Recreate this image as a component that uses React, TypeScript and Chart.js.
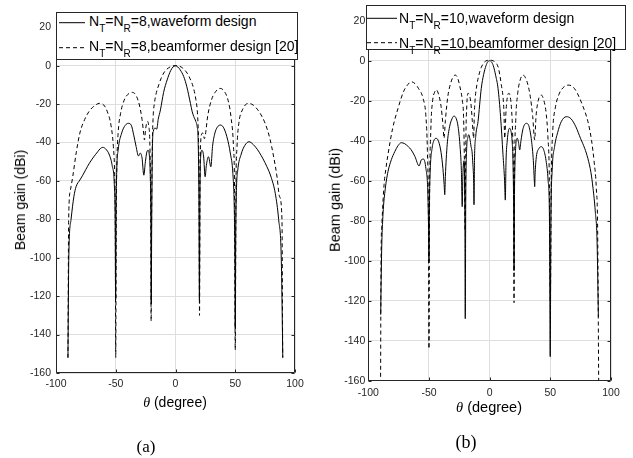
import React, { useEffect, useRef } from "react";
import { Chart, registerables } from "chart.js";

Chart.register(...registerables);

// ---------- data: [theta (degree), beam gain (dBi)] ----------
const waveformA: [number, number][] = [
  [-90, -152], [-89.3, -100], [-87.4, -80], [-85, -68], [-83.2, -63], [-80, -59.5], [-77.6, -57], [-75, -54],
  [-72.1, -50.8], [-68.5, -47.5], [-65.1, -44.8], [-63, -43.2], [-60.9, -42.5], [-58.5, -43.3], [-55.3, -46.5],
  [-53, -52], [-51.2, -62], [-50.5, -80], [-50.1, -122], [-49.7, -75], [-49.2, -55], [-48, -44], [-45, -35],
  [-42, -31], [-39.5, -30], [-37, -31], [-35, -36], [-33, -42], [-31, -47], [-29.5, -45.5], [-28, -48],
  [-26.5, -57], [-25.2, -50], [-24, -45], [-23, -44], [-22, -46], [-21.2, -55], [-20.6, -80], [-20.3, -124],
  [-19.9, -80], [-19.3, -42], [-18.5, -34], [-17, -32.5], [-15.7, -33], [-14.5, -28], [-12.6, -23], [-10, -14],
  [-7, -7.4], [-4, -2.5], [-2, -0.6], [0, 0], [2, -0.7], [4, -2.2], [6.9, -5.7], [9.5, -11], [12.5, -19.6],
  [14, -24], [15.3, -26.5], [17, -29], [18.1, -31.7], [19, -40], [19.6, -70], [20, -122], [20.4, -70], [21, -48],
  [22.1, -44], [23.5, -47], [24.8, -57.8], [25.8, -52], [27.6, -47.4], [29.6, -52.6], [31, -42], [33, -35],
  [35, -32], [37.4, -30.9], [40, -32], [43, -37], [46, -46], [48, -56], [49.2, -75], [49.7, -100], [50, -137],
  [50.4, -90], [51, -65], [52, -55], [55, -46], [58, -41.5], [61.5, -39.6], [65, -41], [70, -45], [76.5, -52.6],
  [80, -58], [83.5, -66.5], [86.3, -80], [88.5, -100], [89.8, -152],
];

const beamformerA: [number, number][] = [
  [-90, -152], [-89.4, -80], [-88, -65], [-86, -57.8], [-83, -45], [-80, -35], [-76, -28], [-72, -23.5],
  [-68, -21], [-63.7, -19.6], [-60, -20.5], [-57, -24], [-54, -31], [-52, -42], [-51, -55], [-50.4, -80],
  [-50, -152], [-49.6, -80], [-49, -50], [-48, -35], [-46, -25], [-43, -18], [-40, -15], [-36, -13.9],
  [-33, -15.5], [-30, -21], [-28, -28], [-26.5, -36], [-26, -38.7], [-25, -33], [-23.5, -29], [-22.5, -31],
  [-21.3, -45], [-20.7, -80], [-20.4, -133], [-20, -80], [-19.5, -45], [-18.8, -28], [-17.5, -19], [-16, -14],
  [-14, -10], [-12, -6.5], [-9, -3], [-6, -1.2], [-3, -0.2], [0, 0], [3, -0.2], [6, -1.2], [9, -3.2],
  [12, -6.5], [15, -11.5], [17, -17.5], [18.5, -26], [19.3, -40], [19.7, -60], [20.1, -130], [20.6, -55],
  [21.7, -36], [23, -35], [24.2, -38], [25, -36], [27, -26], [30, -18], [33, -14], [37.4, -11.8], [41, -13.5],
  [44, -18], [46.5, -27], [48.5, -42], [49.4, -65], [50, -148], [50.6, -65], [51.5, -42], [53, -30], [56, -23],
  [61, -19.6], [65, -20.5], [70, -24], [75, -30], [79, -38], [82, -47], [85, -58], [87, -68], [89.1, -80],
  [89.7, -152],
];

const waveformB: [number, number][] = [
  [-89.8, -127], [-89, -95], [-87.9, -77], [-86, -64], [-83.8, -55.5], [-81, -49.5], [-78.2, -45.5],
  [-75.5, -42.5], [-72.8, -41], [-70, -41.5], [-67, -43], [-64.6, -44.6], [-61.5, -48], [-58.2, -52.6],
  [-56.2, -49.5], [-54.4, -49.2], [-52.5, -54], [-51, -65], [-50.3, -85], [-50, -100], [-49.6, -70],
  [-49, -55], [-47.5, -44], [-46, -40], [-44, -38.8], [-42, -40.5], [-40, -46], [-38.5, -54], [-37.5, -62],
  [-37, -67], [-36.5, -58], [-35, -42], [-33, -33], [-31, -29], [-29.4, -27.7], [-27.5, -29], [-26, -33],
  [-24.5, -42], [-23.3, -55], [-22.6, -73], [-22.1, -58], [-21.1, -50], [-20.4, -80], [-20.1, -129],
  [-19.7, -70], [-19, -45], [-18, -38.5], [-17.3, -37], [-16.3, -39], [-15.3, -43], [-14.5, -45.5],
  [-13.8, -52], [-13.2, -60], [-12.9, -72], [-12.5, -50], [-11.5, -38], [-9.6, -30.5], [-6.9, -13.8],
  [-5, -7], [-3, -2.5], [-1.5, -0.5], [0, 0], [1.5, -0.6], [3, -2.5], [5, -7.5], [6.9, -13.8], [9, -28],
  [11, -47], [12.3, -60], [12.9, -69.7], [13.5, -50], [14.5, -40], [15.5, -35], [16.5, -33.8], [17.5, -35],
  [18.5, -40], [19.3, -52], [19.8, -75], [20.1, -105], [20.5, -65], [21.3, -45], [22.8, -38.8], [23.8, -41],
  [24.8, -44.6], [25.8, -40], [27.5, -34], [30.2, -31.3], [32.5, -33], [34.5, -40], [36, -50], [36.8, -60],
  [37.1, -63], [37.5, -56], [38.5, -48], [40.5, -44], [42.6, -43], [44.5, -44.5], [46.5, -50], [48.2, -60],
  [49.3, -80], [49.9, -148], [50.5, -80], [51.5, -55], [53.5, -43], [56, -36], [59, -30.5], [63.2, -28],
  [67, -29], [71, -33], [75, -39], [78.3, -43.8], [81, -49], [83.5, -56], [85.2, -63.8], [87, -75],
  [88.5, -90], [89.6, -128],
];

const beamformerB: [number, number][] = [
  [-89.9, -165], [-89.5, -100], [-88.7, -80.5], [-87, -62], [-85.5, -54], [-83.8, -47], [-80, -34],
  [-75.5, -23.8], [-71, -15.5], [-67.5, -12], [-64.6, -10.5], [-61.5, -11.5], [-58.5, -14], [-54.9, -18.8],
  [-52.5, -28], [-51.3, -45], [-50.5, -75], [-50, -144], [-49.5, -70], [-48.5, -35], [-47, -20], [-45.5, -16],
  [-44, -14.6], [-42, -17], [-40, -23], [-38.5, -32], [-37.6, -38.8], [-36.5, -30], [-34.5, -18], [-32, -11],
  [-30, -8], [-28.3, -7.2], [-26.5, -8.5], [-24.5, -13], [-22.5, -20], [-21.5, -28], [-20.7, -55],
  [-20.2, -85], [-19.6, -40], [-18.8, -22], [-17.9, -16.3], [-16.8, -17], [-15.5, -21], [-14.3, -30],
  [-13.2, -38.8], [-12.6, -26], [-11.8, -18], [-10.5, -12], [-9, -7.5], [-7, -3.5], [-5, -1.2], [-3, -0.1],
  [0, 0.3], [3, -0.1], [5, -1], [7, -3.2], [8.5, -7.5], [9.6, -12], [11, -18], [11.8, -26], [12.4, -38.8],
  [13.5, -25], [14.5, -18.5], [15.7, -16.3], [16.8, -17.5], [18, -24], [19, -38], [19.7, -65], [20.1, -121],
  [20.5, -60], [21.5, -30], [23, -17], [25, -10], [27.5, -7.2], [29.5, -8.5], [31.5, -12], [33.5, -18],
  [35.5, -28], [37.1, -39.6], [38.2, -28], [40, -20], [42.6, -17.2], [44.5, -19.5], [46.5, -26], [48, -38],
  [49.2, -60], [50, -120], [50.8, -60], [52, -35], [54, -24], [57, -17], [60.5, -13.5], [64.6, -12.2],
  [68.5, -13], [72, -16], [76, -21.5], [81, -30.5], [84, -40], [86, -50], [87.9, -63.8], [89, -85],
  [89.9, -165],
];

const xTickValues = [-100, -50, 0, 50, 100];
const yTickValues = [-160, -140, -120, -100, -80, -60, -40, -20, 0, 20];

const legendA = ["N_T=N_R=8,waveform design", "N_T=N_R=8,beamformer design [20]"];
const legendB = ["N_T=N_R=10,waveform design", "N_T=N_R=10,beamformer design [20]"];
const yTitle = "Beam gain (dBi)";
const xTitleSymbol = "θ";
const xTitleRest = " (degree)";
const captions = ["(a)", "(b)"];

// ---------- drawing ----------
const FRAME = "#262626";

const framePlugin = {
  id: "matlabFrame",
  afterDatasetsDraw(chart: any) {
    const { ctx, chartArea, scales } = chart;
    const l = Math.round(chartArea.left) + 0.5;
    const r = Math.round(chartArea.right) - 0.5;
    const t = Math.round(chartArea.top) + 0.5;
    const b = Math.round(chartArea.bottom) - 0.5;
    ctx.save();
    ctx.strokeStyle = FRAME;
    ctx.lineWidth = 1;
    ctx.beginPath();
    ctx.rect(l, t, r - l, b - t);
    const tl = 3;
    scales.x.ticks.forEach((tk: any) => {
      const px = Math.round(scales.x.getPixelForValue(tk.value)) + 0.5;
      ctx.moveTo(px, b);
      ctx.lineTo(px, b - tl);
      ctx.moveTo(px, t);
      ctx.lineTo(px, t + tl);
    });
    scales.y.ticks.forEach((tk: any) => {
      const py = Math.round(scales.y.getPixelForValue(tk.value)) + 0.5;
      ctx.moveTo(l, py);
      ctx.lineTo(l + tl, py);
      ctx.moveTo(r, py);
      ctx.lineTo(r - tl, py);
    });
    ctx.stroke();
    ctx.restore();
  },
};

type PanelProps = {
  left: number;
  width: number;
  padTop: number;
  padRight: number;
  padBottom: number;
  yWidth: number;
  yTickPad: number;
  xTickPad: number;
  tickFont: number;
  waveform: [number, number][];
  beam: [number, number][];
};

function Panel(p: PanelProps) {
  const ref = useRef<HTMLCanvasElement | null>(null);
  useEffect(() => {
    if (!ref.current) return;
    const tickFont = { family: "'Liberation Sans', Arial, sans-serif", size: p.tickFont };
    const chart = new Chart(ref.current, {
      type: "line",
      data: {
        datasets: [
          {
            data: p.beam.map(([x, y]) => ({ x, y })),
            borderColor: "#000",
            borderWidth: 1,
            borderDash: [4, 3],
            pointRadius: 0,
            cubicInterpolationMode: "monotone",
            fill: false,
          },
          {
            data: p.waveform.map(([x, y]) => ({ x, y })),
            borderColor: "#000",
            borderWidth: 1,
            pointRadius: 0,
            cubicInterpolationMode: "monotone",
            fill: false,
          },
        ],
      },
      options: {
        animation: false,
        responsive: false,
        events: [],
        layout: { padding: { left: 0, right: p.padRight, top: p.padTop, bottom: p.padBottom } },
        plugins: { legend: { display: false }, tooltip: { enabled: false } },
        scales: {
          x: {
            type: "linear",
            min: -100,
            max: 100,
            afterBuildTicks: (s: any) => {
              s.ticks = xTickValues.map((v) => ({ value: v }));
            },
            ticks: { font: tickFont, color: FRAME, padding: p.xTickPad, maxRotation: 0, autoSkip: false },
            grid: { color: "#dedede", drawTicks: false },
            border: { display: false },
            afterFit: (s: any) => {
              s.height = 20;
              s.paddingLeft = 0;
              s.paddingRight = 0;
            },
          },
          y: {
            type: "linear",
            min: -160,
            max: 20,
            afterBuildTicks: (s: any) => {
              s.ticks = yTickValues.map((v) => ({ value: v }));
            },
            ticks: { font: tickFont, color: FRAME, padding: p.yTickPad, autoSkip: false },
            grid: { color: "#dedede", drawTicks: false },
            border: { display: false },
            afterFit: (s: any) => {
              s.width = p.yWidth;
              s.paddingTop = 0;
              s.paddingBottom = 0;
            },
          },
        },
      } as any,
      plugins: [framePlugin],
    });
    return () => chart.destroy();
  }, []);
  return (
    <canvas
      ref={ref}
      width={p.width}
      height={458}
      style={{ position: "absolute", left: p.left, top: 0, width: p.width, height: 458, display: "block" }}
    />
  );
}

function withSubs(s: string, subSize: number, subShift: number) {
  const parts = s.split(/_(\w)/);
  return parts.map((part, i) =>
    i % 2 === 1 ? (
      <span key={i} style={{ fontSize: subSize, position: "relative", top: subShift }}>
        {part}
      </span>
    ) : (
      <span key={i}>{part}</span>
    )
  );
}

type LegendProps = {
  labels: string[];
  box: { left: number; top: number; width: number; height: number };
  sampleX: [number, number];
  sampleY: [number, number];
  textLeft: number;
  baselines: [number, number];
  fontSize: number;
};

function LegendBox(p: LegendProps) {
  const asc = p.fontSize * 0.8465;
  return (
    <>
      <div
        style={{
          position: "absolute",
          left: p.box.left,
          top: p.box.top,
          width: p.box.width,
          height: p.box.height,
          boxSizing: "border-box",
          border: `1px solid ${FRAME}`,
          background: "#fff",
        }}
      />
      <svg
        width={633}
        height={70}
        style={{ position: "absolute", left: 0, top: 0, overflow: "visible", pointerEvents: "none" }}
      >
        <line x1={p.sampleX[0]} x2={p.sampleX[1]} y1={p.sampleY[0]} y2={p.sampleY[0]} stroke="#000" strokeWidth={1} />
        <line
          x1={p.sampleX[0]}
          x2={p.sampleX[1]}
          y1={p.sampleY[1]}
          y2={p.sampleY[1]}
          stroke="#000"
          strokeWidth={1}
          strokeDasharray="4,3"
        />
      </svg>
      {p.labels.map((lab, i) => (
        <div
          key={i}
          style={{
            position: "absolute",
            left: p.textLeft,
            top: p.baselines[i] - asc,
            fontFamily: "'Liberation Sans', Arial, sans-serif",
            fontSize: p.fontSize,
            lineHeight: 1,
            whiteSpace: "nowrap",
            color: "#000",
          }}
        >
          {withSubs(lab, Math.round(p.fontSize * 0.72), Math.round(p.fontSize * 0.42))}
        </div>
      ))}
    </>
  );
}

function Centered(props: { x: number; y: number; rotate?: boolean; style: any; children: any }) {
  return (
    <div
      style={{
        position: "absolute",
        left: props.x,
        top: props.y,
        transform: `translate(-50%, -50%)${props.rotate ? " rotate(-90deg)" : ""}`,
        whiteSpace: "nowrap",
        lineHeight: 1,
        color: "#000",
        ...props.style,
      }}
    >
      {props.children}
    </div>
  );
}

export default function App() {
  const sans = "'Liberation Sans', Arial, sans-serif";
  const serif = "'Liberation Serif', 'Times New Roman', serif";
  return (
    <div style={{ position: "absolute", left: 0, top: 0, width: 633, height: 458, background: "#fff", overflow: "hidden" }}>
      <Panel
        left={0}
        width={316}
        padTop={27.3}
        padRight={21}
        padBottom={65}
        yWidth={56}
        yTickPad={5}
        xTickPad={5}
        tickFont={10.5}
        waveform={waveformA}
        beam={beamformerA}
      />
      <Panel
        left={316}
        width={317}
        padTop={20.7}
        padRight={22}
        padBottom={57.3}
        yWidth={52.3}
        yTickPad={3}
        xTickPad={6}
        tickFont={10.5}
        waveform={waveformB}
        beam={beamformerB}
      />
      <LegendBox
        labels={legendA}
        box={{ left: 56, top: 12, width: 242, height: 48 }}
        sampleX={[59, 85]}
        sampleY={[22.7, 47.7]}
        textLeft={89}
        baselines={[26, 51]}
        fontSize={14}
      />
      <LegendBox
        labels={legendB}
        box={{ left: 366, top: 5, width: 260, height: 45 }}
        sampleX={[367, 397]}
        sampleY={[18.3, 42.7]}
        textLeft={399}
        baselines={[23, 48]}
        fontSize={14}
      />
      <Centered x={20} y={200} rotate style={{ fontFamily: sans, fontSize: 14 }}>
        {yTitle}
      </Centered>
      <Centered x={335} y={200} rotate style={{ fontFamily: sans, fontSize: 14.5 }}>
        {yTitle}
      </Centered>
      <Centered x={175} y={402} style={{ fontFamily: sans, fontSize: 14 }}>
        <span style={{ fontFamily: serif, fontStyle: "italic" }}>{xTitleSymbol}</span>
        {xTitleRest}
      </Centered>
      <Centered x={489} y={407} style={{ fontFamily: sans, fontSize: 14.5 }}>
        <span style={{ fontFamily: serif, fontStyle: "italic" }}>{xTitleSymbol}</span>
        {xTitleRest}
      </Centered>
      <Centered x={146} y={446} style={{ fontFamily: serif, fontSize: 17 }}>
        {captions[0]}
      </Centered>
      <Centered x={466} y={442} style={{ fontFamily: serif, fontSize: 18 }}>
        {captions[1]}
      </Centered>
    </div>
  );
}
